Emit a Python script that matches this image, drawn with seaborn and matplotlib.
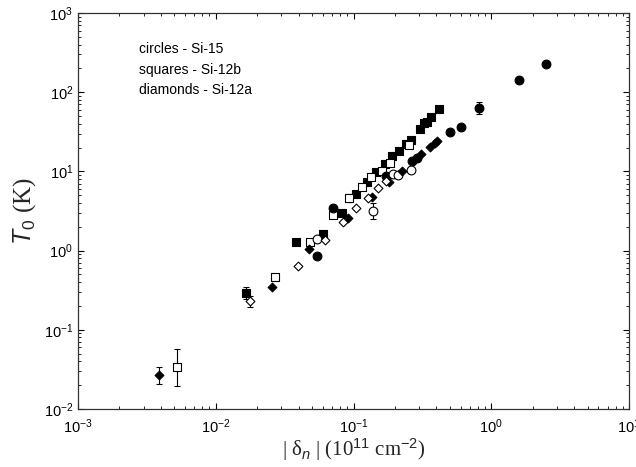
import matplotlib
matplotlib.use("Agg")
import matplotlib.pyplot as plt
import seaborn as sns
import pandas as pd
import numpy as np
from matplotlib.ticker import LogLocator, NullFormatter

# ---------------- data ----------------
# Si-12b, filled squares
sq_f_x = [0.418, 0.366, 0.344, 0.327, 0.304, 0.260, 0.239, 0.215, 0.191, 0.170,
          0.146, 0.125, 0.104, 0.0827, 0.0604, 0.0383, 0.0165]
sq_f_y = [60.8, 48.2, 42.4, 41.2, 34.3, 24.9, 22.0, 18.3, 15.5, 12.3,
          9.75, 7.28, 5.19, 3.01, 1.63, 1.29, 0.294]
# Si-12b, open squares
sq_o_x = [0.252, 0.183, 0.160, 0.135, 0.115, 0.0933, 0.0706, 0.0483, 0.0270, 0.00526]
sq_o_y = [21.4, 12.9, 10.1, 8.43, 6.35, 4.66, 2.81, 1.29, 0.460, 0.0336]
# Si-15, filled circles
ci_f_x = [0.0546, 0.0706, 0.171, 0.267, 0.289, 0.505, 0.603, 0.811, 1.58, 2.50]
ci_f_y = [0.863, 3.48, 8.82, 13.6, 14.8, 31.2, 36.4, 63.7, 142.6, 230.0]
# Si-15, open circles
ci_o_x = [0.0543, 0.195, 0.211, 0.260, 0.139]
ci_o_y = [1.39, 9.19, 9.01, 10.4, 3.19]
# Si-12a, filled diamonds
di_f_x = [0.405, 0.391, 0.359, 0.311, 0.224, 0.181, 0.136, 0.0916, 0.0478, 0.0258, 0.00389]
di_f_y = [24.4, 22.6, 20.1, 16.7, 10.2, 7.28, 4.71, 2.58, 1.04, 0.344, 0.0269]
# Si-12a, open diamonds
di_o_x = [0.172, 0.151, 0.127, 0.105, 0.0843, 0.0618, 0.0397, 0.0178]
di_o_y = [7.57, 6.12, 4.61, 3.42, 2.28, 1.35, 0.644, 0.229]

# error bars (x, y, lower, upper)
err_x = [0.00389, 0.00526, 0.0165, 0.0178, 0.0933, 0.139, 0.811]
err_y = [0.0269, 0.0336, 0.294, 0.229, 4.66, 3.19, 63.7]
err_lo = [0.0205, 0.0195, 0.247, 0.192, 4.11, 2.48, 53.5]
err_hi = [0.0342, 0.0567, 0.350, 0.267, 5.19, 4.03, 75.9]

legend_lines = ["circles - Si-15", "squares - Si-12b", "diamonds - Si-12a"]

# ---------------- styling ----------------
sns.set_style("ticks")
plt.rcParams["font.family"] = ["Liberation Sans", "DejaVu Sans"]
plt.rcParams["mathtext.fontset"] = "custom"
plt.rcParams["mathtext.rm"] = "Liberation Sans"
plt.rcParams["mathtext.it"] = "Liberation Sans:italic"

fig = plt.figure(figsize=(6.36, 4.67), dpi=100)
ax = fig.add_axes([78 / 636, 1 - 409 / 467, (629 - 78) / 636, (409 - 13) / 467])

groups = [
    (sq_f_x, sq_f_y, "s", True, 30),
    (sq_o_x, sq_o_y, "s", False, 30),
    (ci_f_x, ci_f_y, "o", True, 40),
    (ci_o_x, ci_o_y, "o", False, 40),
    (di_f_x, di_f_y, "D", True, 20),
    (di_o_x, di_o_y, "D", False, 20),
]

# error bars first (under markers)
yerr = np.array([np.array(err_y) - np.array(err_lo), np.array(err_hi) - np.array(err_y)])
ax.errorbar(err_x, err_y, yerr=yerr, fmt="none", ecolor="black", elinewidth=0.8,
            capsize=2.5, capthick=0.8, zorder=2)

for xs, ys, m, filled, s in groups:
    df = pd.DataFrame({"x": xs, "y": ys})
    sns.scatterplot(data=df, x="x", y="y", ax=ax, marker=m, s=s,
                    facecolor="black" if filled else "white",
                    edgecolor="black", linewidth=0.8, zorder=3, legend=False)

ax.set_xscale("log")
ax.set_yscale("log")
ax.set_xlim(1e-3, 10)
ax.set_ylim(1e-2, 1e3)

ax.xaxis.set_major_locator(LogLocator(base=10, numticks=10))
ax.yaxis.set_major_locator(LogLocator(base=10, numticks=10))
ax.xaxis.set_minor_locator(LogLocator(base=10, subs=np.arange(2, 10), numticks=20))
ax.yaxis.set_minor_locator(LogLocator(base=10, subs=np.arange(2, 10), numticks=20))
ax.xaxis.set_minor_formatter(NullFormatter())
ax.yaxis.set_minor_formatter(NullFormatter())

ax.tick_params(which="both", direction="in", top=True, right=True, colors="black",
               labelsize=10.5)
ax.tick_params(which="major", length=4, width=0.8)
ax.tick_params(which="minor", length=2.2, width=0.6)
ax.tick_params(axis="x", which="major", pad=6)
for sp in ax.spines.values():
    sp.set_color("#333333")
    sp.set_linewidth(0.9)

serif = ["Liberation Serif", "DejaVu Serif"]
ax.set_xlabel("| δ$_{\\it n}$ | (10$^{11}$ cm$^{-2}$)", fontsize=15, family=serif,
              labelpad=0)
ax.set_ylabel("$\\it{T}$$_{0}$ (K)", fontsize=18, family=serif, labelpad=4)

ty = [0.909, 0.856, 0.806]
for t, yy in zip(legend_lines, ty):
    ax.text(0.111, yy, t, transform=ax.transAxes, fontsize=10, va="center",
            ha="left", color="black")

sns.despine(ax=ax, top=False, right=False)
fig.savefig("out.png", dpi=100)
